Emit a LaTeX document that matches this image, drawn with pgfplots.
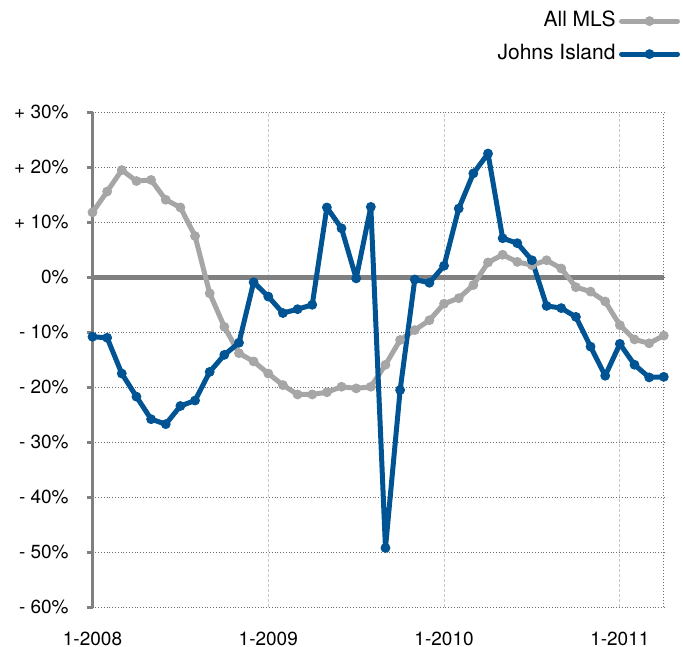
\documentclass[border=0pt]{standalone}
\usepackage{pgfplots}
\pgfplotsset{compat=1.18}
\usepackage{fontspec}
\setmainfont{TeX Gyre Heros}
\definecolor{mlsgray}{RGB}{166,166,166}
\definecolor{jiblue}{RGB}{0,84,147}
\definecolor{axgray}{RGB}{128,128,128}
\definecolor{gridgray}{RGB}{110,110,110}
\definecolor{vgrid}{RGB}{200,200,200}
\begin{document}
\begin{tikzpicture}
\begin{axis}[
  scale only axis,
  width=285.65pt, height=247.5pt,
  xmin=0, xmax=39, ymin=-60, ymax=30,
  clip=false,
  axis line style={draw=none},
  xtick={0,12,24,36},
  xticklabels={1-2008,1-2009,1-2010,1-2011},
  ytick={-60,-50,-40,-30,-20,-10,0,10,20,30},
  yticklabels={- 60\%,- 50\%,- 40\%,- 30\%,- 20\%,- 10\%,0\%,+ 10\%,+ 20\%,+ 30\%},
  tick label style={font=\fontsize{9.5}{11}\selectfont},
  ytick pos=left,
  xtick pos=bottom,
  tick align=outside,
  major tick length=3pt,
  x tick style={draw=none},
  y tick style={line width=1.3pt, color=axgray},
  xmajorgrids, ymajorgrids,
  x grid style={vgrid, dash pattern=on 1.5pt off 1pt, line width=0.5pt},
  y grid style={gridgray, densely dotted, line width=0.5pt},
  yticklabel style={xshift=-5.4pt},
  xticklabel style={inner sep=0pt, yshift=-9pt},
  legend style={at={(1.0284,1.2105)}, anchor=north east, draw=none, fill=none,
    inner sep=0pt, outer sep=0pt, row sep=3.5pt, column sep=0pt,
    font=\fontsize{10.5}{12}\selectfont,
    nodes={inner sep=1.75pt, text height=7.5pt, text depth=2pt}},
  legend plot pos=right,
  legend cell align=right,
  legend image code/.code={\draw[#1, mark repeat=2, mark phase=2] plot coordinates {(0pt,0pt) (14pt,0pt) (28pt,0pt)};},
]
\draw[axgray, line width=2.5pt] (axis cs:0,0) -- (axis cs:39,0);
\draw[axgray, line width=1.4pt] (axis cs:0,-60) -- (axis cs:0,30);
\draw[gridgray, densely dotted, line width=0.5pt] (axis cs:39,-60) -- (axis cs:39,30);
\addplot[mlsgray, line width=2.5pt, line join=round, line cap=round, mark=*, mark size=2.2pt, mark options={solid, fill=mlsgray, draw=mlsgray, line width=0.5pt, line join=miter, line cap=butt}] coordinates {
(0,11.8)(1,15.6)(2,19.5)(3,17.5)(4,17.7)(5,14.1)(6,12.7)(7,7.5)(8,-2.9)(9,-9.0)
(10,-13.8)(11,-15.3)(12,-17.5)(13,-19.6)(14,-21.3)(15,-21.3)(16,-20.9)(17,-19.9)(18,-20.2)(19,-19.9)
(20,-15.9)(21,-11.4)(22,-9.6)(23,-7.8)(24,-4.8)(25,-3.8)(26,-1.4)(27,2.7)(28,4.1)(29,2.8)
(30,2.2)(31,3.1)(32,1.6)(33,-1.8)(34,-2.6)(35,-4.4)(36,-8.7)(37,-11.3)(38,-12.0)(39,-10.6)};
\addlegendentry{All MLS}
\addplot[jiblue, line width=2.5pt, line join=round, line cap=round, mark=*, mark size=2.2pt, mark options={solid, fill=jiblue, draw=jiblue, line width=0.5pt, line join=miter, line cap=butt}] coordinates {
(0,-10.8)(1,-11.0)(2,-17.5)(3,-21.7)(4,-25.8)(5,-26.7)(6,-23.4)(7,-22.4)(8,-17.2)(9,-14.1)
(10,-11.9)(11,-0.9)(12,-3.5)(13,-6.5)(14,-5.8)(15,-5.0)(16,12.7)(17,8.9)(18,-0.2)(19,12.8)
(20,-49.2)(21,-20.5)(22,-0.4)(23,-1.0)(24,2.1)(25,12.5)(26,18.9)(27,22.5)(28,7.1)(29,6.2)
(30,3.1)(31,-5.2)(32,-5.6)(33,-7.2)(34,-12.6)(35,-17.9)(36,-12.1)(37,-15.9)(38,-18.2)(39,-18.1)};
\addlegendentry{Johns Island}
\end{axis}
\pgfresetboundingbox
\path[use as bounding box] ([xshift=-46.25pt,yshift=-19.35pt]current axis.south west) rectangle ([xshift=9.6pt,yshift=56.15pt]current axis.north east);
\end{tikzpicture}
\end{document}
